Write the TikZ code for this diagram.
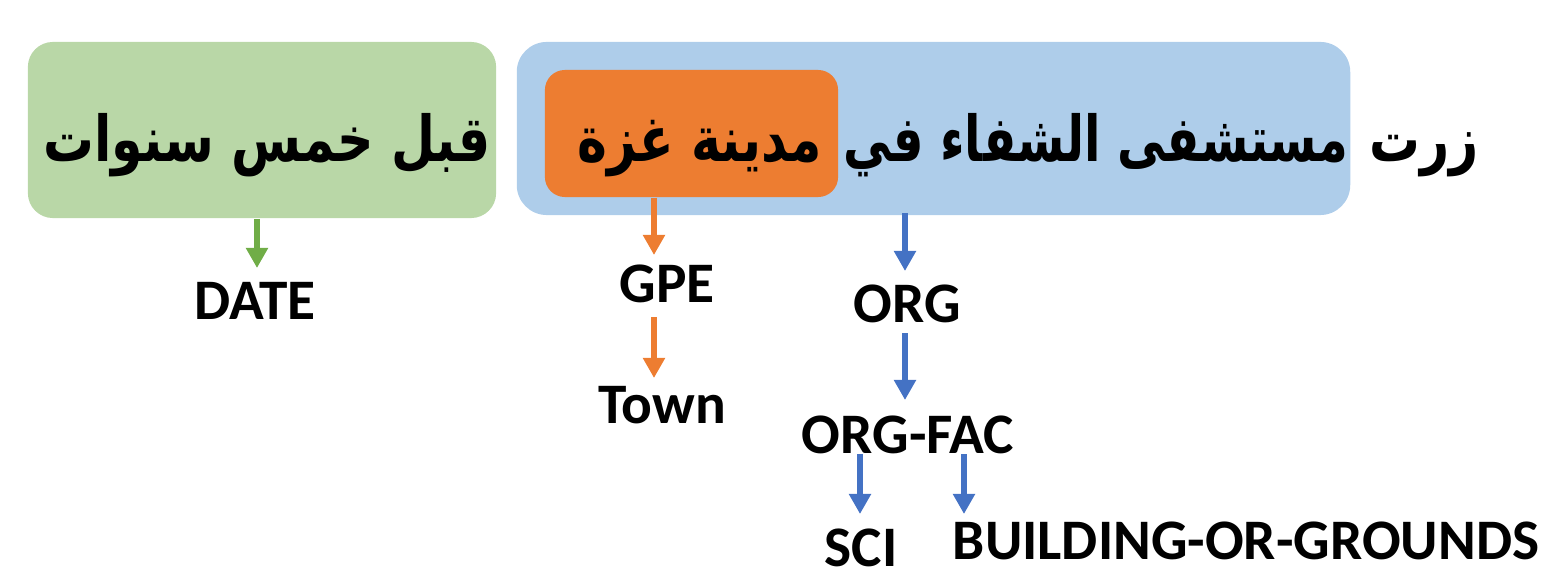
\documentclass[tikz,border=0pt]{standalone}
\usepackage{fontspec}
\setmainfont{Carlito}
\newfontfamily\arabicfont[Script=Arabic]{DejaVu Sans}
\TeXXeTstate=1
\usetikzlibrary{arrows.meta, positioning}
\definecolor{boxgreen}{HTML}{B9D7A7}
\definecolor{boxblue}{HTML}{AECDEA}
\definecolor{boxorange}{HTML}{ED7D31}
\definecolor{arrgreen}{HTML}{70AD47}
\definecolor{arrblue}{HTML}{4472C4}
\newcommand{\arline}[2][0.8]{\scalebox{#1}[1]{\beginR #2\endR}}

\begin{document}
\begin{tikzpicture}[x=0.01cm, y=-0.01cm,
  tag/.style={font=\fontsize{16.3}{20}\selectfont\bfseries, anchor=base, inner sep=0pt},
  arword/.style={font=\arabicfont\fontsize{18}{24}\selectfont\bfseries, anchor=base, inner sep=0pt},
  arr/.style={line width=0.06cm, -{Triangle[width=0.21cm, length=0.2cm]}}]
\useasboundingbox (0,0) rectangle (1545,576);

% span boxes behind the sentence
\node[fill=boxgreen, rounded corners=0.25cm, minimum width=4.68cm, minimum height=1.76cm] (greenbox) at (262,130) {};
\node[fill=boxblue, rounded corners=0.3cm, minimum width=8.33cm, minimum height=1.73cm] (bluebox) at (933.5,128.5) {};
\node[fill=boxorange, rounded corners=0.2cm, minimum width=2.93cm, minimum height=1.27cm] (orbox) at (691.5,133.5) {};

% the sentence
\node[arword] (visited) at (1424,162) {\arline{زرت}};
\node[arword] (hospital) at (1096,162) {\arline[0.76]{مستشفى الشفاء في}};
\node[arword] (city) at (700,162) {\arline{مدينة غزة}};
\node[arword] (years) at (267,162) {\arline{قبل خمس سنوات}};

% entity tags
\node[tag] (date) at (255,320) {DATE};
\node[tag] (gpe) at (667,303) {GPE};
\node[tag] (town) at (662,423) {Town};
\node[tag] (org) at (907,322) {ORG};
\node[tag] (orgfac) at (908,453) {ORG-FAC};
\node[tag] (sci) at (861,566) {SCI};
\node[tag] (bog) at (1246,559) {BUILDING-OR-GROUNDS};

% arrow tips
\coordinate (datetip) at (257,268);
\coordinate (gpetip) at (654,255);
\coordinate (towntip) at (654,378);
\coordinate (orgtip) at (905,271);
\coordinate (factip) at (905,400);
\coordinate (scitip) at (860,514);
\coordinate (bogtip) at (964,514);

\draw[arr, arrgreen] (greenbox.south -| datetip) -- (datetip);
\draw[arr, boxorange] (orbox.south -| gpetip) -- (gpetip);
\draw[arr, boxorange] ([yshift=-0.13cm]gpe.south -| towntip) -- (towntip);
\draw[arr, arrblue] ([yshift=0.03cm]bluebox.south -| orgtip) -- (orgtip);
\draw[arr, arrblue] ([yshift=-0.1cm]org.south -| factip) -- (factip);
\draw[arr, arrblue] (orgfac.south -| scitip) -- (scitip);
\draw[arr, arrblue] (orgfac.south -| bogtip) -- (bogtip);
\end{tikzpicture}
\end{document}
